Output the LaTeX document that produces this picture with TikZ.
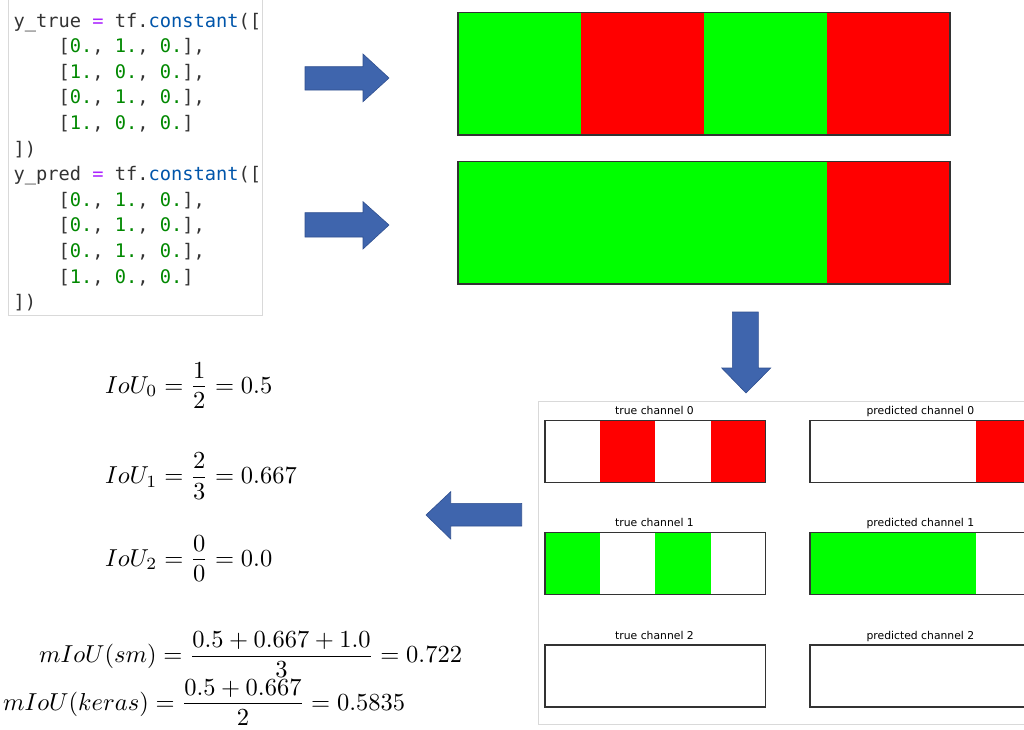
\documentclass[tikz,border=0pt]{standalone}
\usepackage{amsmath}
\usepackage{graphicx}
\usepackage{fontspec}
\newfontfamily\codefont{DejaVu Sans Mono}
\newfontfamily\plotfont{DejaVu Sans}

\definecolor{kwpurple}{HTML}{AA22FF}
\definecolor{propblue}{HTML}{0055AA}
\definecolor{numgreen}{HTML}{008800}
\definecolor{codeink}{HTML}{333333}
\definecolor{segG}{HTML}{00FF00}
\definecolor{segR}{HTML}{FF0000}
\definecolor{arrowfill}{HTML}{3F65AD}
\definecolor{arrowline}{HTML}{2F4F8F}
\definecolor{frameink}{HTML}{333333}
\definecolor{panelgray}{HTML}{D9D9D9}

% code highlighting helpers
\newcommand{\nm}[1]{{\color{numgreen}#1}}
\newcommand{\eqop}{{\color{kwpurple}=}}
\newcommand{\prop}[1]{{\color{propblue}#1}}
\newcommand{\row}[3]{[\nm{#1}, \nm{#2}, \nm{#3}]}
% enlarged display formula with slightly tighter fractions
\newcommand{\bigeq}[1]{\scalebox{2.45}{$\displaystyle #1$}}
\newcommand{\tfr}[2]{\frac{\raisebox{-0.65pt}{$\displaystyle #1$}}{\raisebox{0.6pt}{$\displaystyle #2$}}}

\tikzset{
  codeline/.style={anchor=base west, inner sep=0pt, text=codeink,
    font=\codefont\fontsize{18.7}{22}\selectfont},
  eqn/.style={anchor=base west, inner sep=0pt},
  plottitle/.style={anchor=base, inner sep=0pt, text=black,
    font=\plotfont\fontsize{10.8}{12}\selectfont},
  barframe/.style={draw=frameink, line width=1.4pt},
  blockarrow/.style={fill=arrowfill, draw=arrowline, line width=0.6pt, line join=miter},
}

\begin{document}
\begin{tikzpicture}[x=1pt,y=-1pt]
\useasboundingbox (0,0) rectangle (1024,729);

% ---- code cell ----
\draw[panelgray, line width=0.8pt] (8,-2) rectangle (262,315);
\def\lx{13.3}
\def\ix{58.3}
\node[codeline] (c1)  at (\lx, 27.0)  {y\_true \eqop{} tf.\prop{constant}([};
\node[codeline] (c2)  at (\ix, 52.6)  {\row{0.}{1.}{0.},};
\node[codeline] (c3)  at (\ix, 78.2)  {\row{1.}{0.}{0.},};
\node[codeline] (c4)  at (\ix, 103.8) {\row{0.}{1.}{0.},};
\node[codeline] (c5)  at (\ix, 129.4) {\row{1.}{0.}{0.}};
\node[codeline] (c6)  at (\lx, 155.0) {])};
\node[codeline] (c7)  at (\lx, 180.6) {y\_pred \eqop{} tf.\prop{constant}([};
\node[codeline] (c8)  at (\ix, 206.2) {\row{0.}{1.}{0.},};
\node[codeline] (c9)  at (\ix, 231.8) {\row{0.}{1.}{0.},};
\node[codeline] (c10) at (\ix, 257.4) {\row{0.}{1.}{0.},};
\node[codeline] (c11) at (\ix, 283.0) {\row{1.}{0.}{0.}};
\node[codeline] (c12) at (\lx, 308.6) {])};

% ---- label strips ----
\foreach \c [count=\i from 0] in {segG,segR,segG,segR}
  \fill[\c] ({458+123*\i},12.5) rectangle ++(123,122.5);
\draw[barframe] (458,12.5) rectangle (950,135);
\foreach \c [count=\i from 0] in {segG,segG,segG,segR}
  \fill[\c] ({458+123*\i},161.7) rectangle ++(123,122.3);
\draw[barframe] (458,161.7) rectangle (950,284);

% ---- block arrows ----
\path[blockarrow] (305,66.7) -- (363,66.7) -- (363,54) -- (389,78) -- (363,101.7)
  -- (363,90) -- (305,90) -- cycle;
\path[blockarrow] (305,212.7) -- (363,212.7) -- (363,201.7) -- (389,225) -- (363,249)
  -- (363,237) -- (305,237) -- cycle;
\path[blockarrow] (732.3,312) -- (758.3,312) -- (758.3,368) -- (770.7,368) -- (746,393)
  -- (721.7,368) -- (732.3,368) -- cycle;
\path[blockarrow] (521.7,503.3) -- (450.7,503.3) -- (450.7,491.7) -- (426,515)
  -- (450.7,539) -- (450.7,526) -- (521.7,526) -- cycle;

% ---- per-channel figure ----
\draw[panelgray, line width=0.8pt] (538.3,401) rectangle (1040,724.3);
\def\cw{55.18}
\def\bh{62}
% row 0
\foreach \c [count=\i from 0] in {white,segR,white,segR}
  \fill[\c] ({545+\cw*\i},420.7) rectangle ++(\cw,\bh);
\draw[barframe, line width=1.2pt] (545,420.7) rectangle ++({4*\cw},\bh);
\foreach \c [count=\i from 0] in {white,white,white,segR}
  \fill[\c] ({810+\cw*\i},420.7) rectangle ++(\cw,\bh);
\draw[barframe, line width=1.2pt] (810,420.7) rectangle ++({4*\cw},\bh);
% row 1
\foreach \c [count=\i from 0] in {segG,white,segG,white}
  \fill[\c] ({545+\cw*\i},532.7) rectangle ++(\cw,\bh);
\draw[barframe, line width=1.2pt] (545,532.7) rectangle ++({4*\cw},\bh);
\foreach \c [count=\i from 0] in {segG,segG,segG,white}
  \fill[\c] ({810+\cw*\i},532.7) rectangle ++(\cw,\bh);
\draw[barframe, line width=1.2pt] (810,532.7) rectangle ++({4*\cw},\bh);
% row 2
\draw[barframe, line width=1.2pt] (545,645) rectangle ++({4*\cw},\bh);
\draw[barframe, line width=1.2pt] (810,645) rectangle ++({4*\cw},\bh);
% titles
\node[plottitle] (t0) at (654.5,414.6) {true channel 0};
\node[plottitle] (p0) at (920.4,414.6) {predicted channel 0};
\node[plottitle] (t1) at (654.5,526.8) {true channel 1};
\node[plottitle] (p1) at (920.4,526.8) {predicted channel 1};
\node[plottitle] (t2) at (654.5,639.2) {true channel 2};
\node[plottitle] (p2) at (920.4,639.2) {predicted channel 2};

% ---- IoU results ----
\node[eqn] (iou0) at (105,393.1) {\bigeq{IoU_0=\tfr{1}{2}=0.5}};
\node[eqn] (iou1) at (105,483.8) {\bigeq{IoU_1=\tfr{2}{3}=0.667}};
\node[eqn] (iou2) at (105,566.1) {\bigeq{IoU_2=\tfr{0}{0}=0.0}};
\node[eqn] (msm)  at (39,662.3)  {\bigeq{mIoU(sm)=\tfr{0.5+0.667+1.0}{3}=0.722}};
\node[eqn] (mkr)  at (3,710.0)   {\bigeq{mIoU(keras)=\tfr{0.5+0.667}{2}=0.5835}};
\end{tikzpicture}
\end{document}
